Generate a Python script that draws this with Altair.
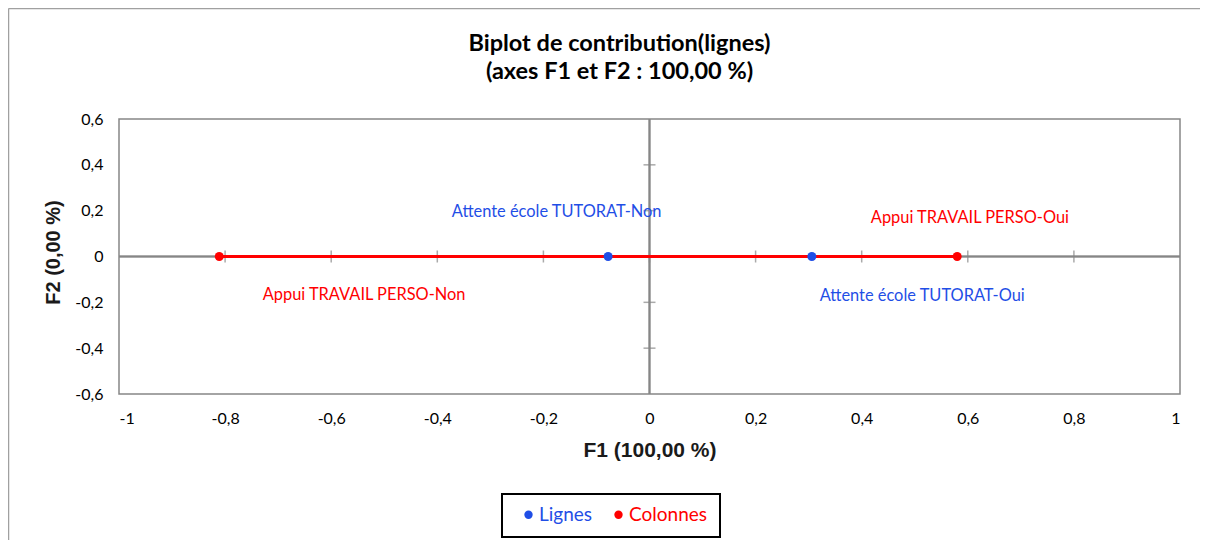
import altair as alt
import pandas as pd

FONT = "Lato"
BLUE = "#1f4ee6"
RED = "#ff0000"
GRAY = "#868686"

# ---- data ----
row_labels = ["Attente école TUTORAT-Non", "Attente école TUTORAT-Oui"]
row_f1 = [-0.078, 0.306]
row_f2 = [0.0, 0.0]
row_lab_f1 = [-0.175, 0.514]
row_lab_f2 = [0.194, -0.172]

col_labels = ["Appui TRAVAIL PERSO-Non", "Appui TRAVAIL PERSO-Oui"]
col_f1 = [-0.811, 0.580]
col_f2 = [0.0, 0.0]
col_lab_f1 = [-0.538, 0.604]
col_lab_f2 = [-0.168, 0.168]

x_ticks = [-1, -0.8, -0.6, -0.4, -0.2, 0, 0.2, 0.4, 0.6, 0.8, 1]
y_ticks = [-0.6, -0.4, -0.2, 0, 0.2, 0.4, 0.6]
x_cross = [-0.8, -0.6, -0.4, -0.2, 0, 0.2, 0.4, 0.6, 0.8]
y_cross = [-0.4, -0.2, 0.2, 0.4]

series_names = ["Lignes", "Colonnes"]
title_lines = ["Biplot de contribution(lignes)", "(axes F1 et F2 : 100,00 %)"]

pts = pd.DataFrame({
    "name": row_labels + col_labels,
    "serie": [series_names[0]] * 2 + [series_names[1]] * 2,
    "f1": row_f1 + col_f1,
    "f2": row_f2 + col_f2,
    "lx": row_lab_f1 + col_lab_f1,
    "ly": row_lab_f2 + col_lab_f2,
})
cols = pd.DataFrame({"f1": col_f1, "f2": col_f2})

label_expr = "replace(toString(round(datum.value*10)/10), '.', ',')"
xscale = alt.Scale(domain=[-1, 1], nice=False, zero=False)
yscale = alt.Scale(domain=[-0.6, 0.6], nice=False, zero=False)
color_scale = alt.Scale(domain=series_names, range=[BLUE, RED])

x_axis = alt.Axis(values=x_ticks, labelExpr=label_expr, grid=False, domain=False,
                  ticks=False, labelFont=FONT, labelFontSize=16, labelColor="black",
                  labelPadding=16, title="F1 (100,00 %)", titleFont="Liberation Sans",
                  titleFontSize=21, titleFontWeight="bold", titleColor="#1a1a1a",
                  titleY=56, titleBaseline="middle")
y_axis = alt.Axis(values=y_ticks, labelExpr=label_expr, grid=False, domain=False,
                  ticks=False, labelFont=FONT, labelFontSize=16, labelColor="black",
                  labelPadding=16, title="F2 (0,00 %)", titleFont="Liberation Sans",
                  titleFontSize=20, titleFontWeight="bold", titleColor="#1a1a1a",
                  titleX=-66, titleY=133, titleAngle=-90, titleAlign="center",
                  titleBaseline="middle")


def X(**kw):
    return alt.X(scale=xscale, axis=x_axis, **kw)


def Y(**kw):
    return alt.Y(scale=yscale, axis=y_axis, **kw)


base = alt.Chart(pts)

zero_v = alt.Chart(pts).mark_rule(color=GRAY, strokeWidth=1.5).encode(
    x=X(datum=0, type="quantitative"))
zero_h = alt.Chart(pts).mark_rule(color=GRAY, strokeWidth=1.5).encode(
    y=Y(datum=0, type="quantitative"))

xt = alt.Chart(pd.DataFrame({"t": x_cross})).mark_tick(
    orient="vertical", size=12, thickness=1.5, color=GRAY).encode(
    x=X(field="t", type="quantitative"),
    y=Y(datum=0, type="quantitative"))
yt = alt.Chart(pd.DataFrame({"t": y_cross})).mark_tick(
    orient="horizontal", size=12, thickness=1.5, color=GRAY).encode(
    y=Y(field="t", type="quantitative"),
    x=X(datum=0, type="quantitative"))

line = alt.Chart(cols).mark_line(color=RED, strokeWidth=3).encode(
    x=X(field="f1", type="quantitative"), y=Y(field="f2", type="quantitative"))

points = base.mark_circle(size=80, opacity=1).encode(
    x=X(field="f1", type="quantitative"),
    y=Y(field="f2", type="quantitative"),
    color=alt.Color("serie:N", scale=color_scale, legend=alt.Legend(
        orient="none", legendX=383, legendY=375, direction="horizontal", title=None,
        symbolType="circle", symbolSize=70, symbolStrokeWidth=0, symbolOffset=6,
        labelFont=FONT, labelFontSize=19,
        labelColor={"expr": "datum.label == 'Lignes' ? '#1f4ee6' : '#ff0000'"},
        padding=11, columnPadding=10, labelOffset=1)),
)

labels = base.mark_text(font=FONT, fontSize=16.4, align="center", baseline="middle").encode(
    x=X(field="lx", type="quantitative"),
    y=Y(field="ly", type="quantitative"),
    text="name:N",
    color=alt.Color("serie:N", scale=color_scale, legend=None),
)

t1 = alt.Chart(pd.DataFrame({"t": [title_lines[0]]})).mark_text(
    font=FONT, fontSize=23.5, fontWeight="bold", color="black", align="center",
    baseline="middle").encode(text="t:N", x=alt.value(500.5), y=alt.value(-75))
t2 = alt.Chart(pd.DataFrame({"t": [title_lines[1]]})).mark_text(
    font=FONT, fontSize=23.5, fontWeight="bold", color="black", align="center",
    baseline="middle").encode(text="t:N", x=alt.value(500.5), y=alt.value(-47))

legend_box = alt.Chart(pd.DataFrame({"a": [0]})).mark_rect(
    fill=None, stroke="black", strokeWidth=2).encode(
    x=alt.value(383), x2=alt.value(601), y=alt.value(375), y2=alt.value(418))

frame_l = alt.Chart(pd.DataFrame({"a": [0]})).mark_rule(color="#a0a0a0", strokeWidth=1.5).encode(
    x=alt.value(-110.5), y=alt.value(-110.5), y2=alt.value(430))
frame_t = alt.Chart(pd.DataFrame({"a": [0]})).mark_rule(color="#a0a0a0", strokeWidth=1.5).encode(
    x=alt.value(-110.5), x2=alt.value(1100), y=alt.value(-110.5))

chart = alt.layer(zero_v, zero_h, xt, yt, line, points, labels, t1, t2, legend_box,
                  frame_l, frame_t).properties(
    width=1061, height=275,
    autosize=alt.AutoSizeParams(type="none"),
    padding={"left": 111, "top": 111, "right": 20, "bottom": 146},
    background="white",
).configure_view(stroke=GRAY, strokeWidth=1.5)

chart.save("out.html", embed_options={"renderer": "svg", "actions": False})
